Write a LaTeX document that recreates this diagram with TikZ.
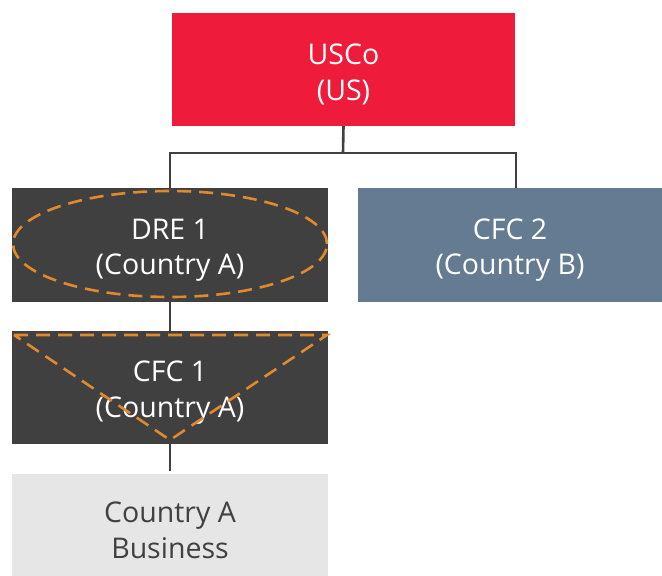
\documentclass[tikz,border=0pt]{standalone}
\usepackage{fontspec}
\setmainfont{Open Sans}
\definecolor{uscored}{HTML}{EE1B3A}
\definecolor{darkbox}{HTML}{404040}
\definecolor{slate}{HTML}{647B91}
\definecolor{lightbox}{HTML}{E6E6E6}
\definecolor{orangeline}{HTML}{E0892E}
\newcommand\toppad{\rule{0pt}{31pt}}
\tikzset{
  box/.style={rectangle, inner sep=0pt, align=center, text=white,
    font=\fontsize{28.5}{35.5}\selectfont},
  link/.style={draw=darkbox, line width=2.6pt},
  marker/.style={draw=orangeline, line width=2.6pt, dash pattern=on 14pt off 8pt}
}
\begin{document}
\begin{tikzpicture}[x=1pt,y=-1pt]
\useasboundingbox (0,0) rectangle (662,576);
\node[box, fill=uscored, minimum width=343pt, minimum height=113pt] (usco) at (343.5,69.5) {\toppad USCo\\(US)};
\node[box, fill=darkbox, minimum width=316pt, minimum height=114pt] (dre) at (170,245) {\toppad DRE 1\\(Country A)};
\node[box, fill=slate, minimum width=304pt, minimum height=114pt] (cfc2) at (510,245) {\toppad CFC 2\\(Country B)};
\node[box, fill=darkbox, minimum width=316pt, minimum height=113pt] (cfc1) at (170,387.5) {\toppad CFC 1\\(Country A)};
\node[box, fill=lightbox, text=darkbox, minimum width=316pt, minimum height=102pt] (bus) at (170,525) {\toppad Country A\\Business};
\coordinate (split) at (343,153);
\coordinate (cfc2top) at (516,188);
\draw[link] (usco.south) -- (split);
\draw[link] (split) -| (dre.north);
\draw[link] (split) -| (cfc2top);
\draw[link] (dre.south) -- (cfc1.north);
\draw[link] (cfc1.south) -- (170,471) coordinate (busstop);
\draw[marker] (170,244) ellipse [x radius=157pt, y radius=53pt];
\draw[marker] (14,335) -- (327,335) -- (170,440) -- cycle;
\end{tikzpicture}
\end{document}
